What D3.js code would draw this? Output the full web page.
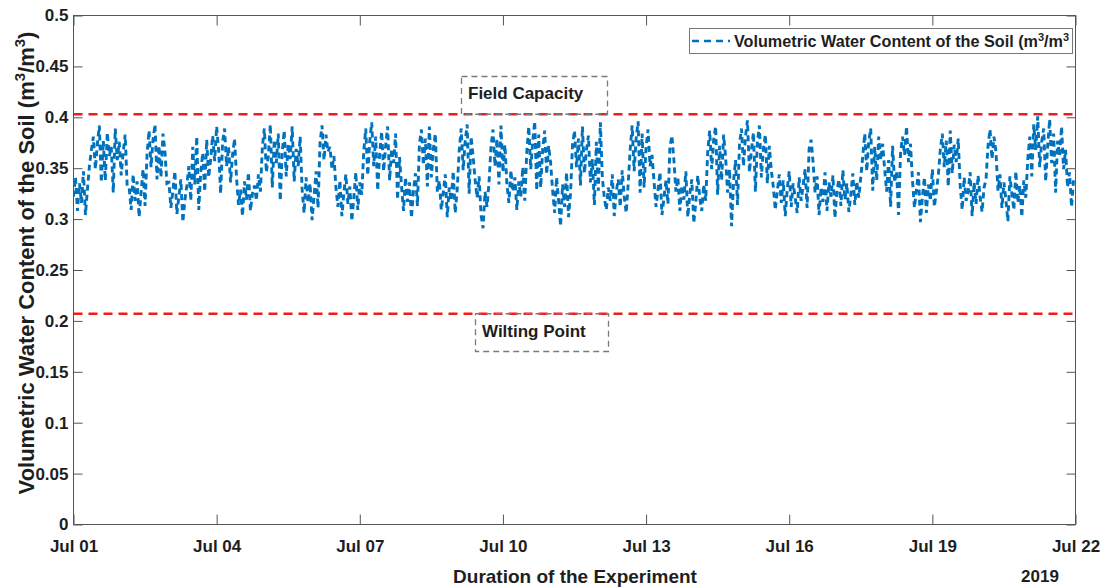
<!DOCTYPE html>
<html>
<head>
<meta charset="utf-8">
<script src="https://cdn.jsdelivr.net/npm/d3@7/dist/d3.min.js"></script>
<style>
  html, body { margin: 0; padding: 0; background: #fff; }
  svg { display: block; font-family: "Liberation Sans", Arial, sans-serif; font-weight: bold; }
</style>
</head>
<body>
<svg id="chart" width="1107" height="588"></svg>
<script>
// Hourly volumetric water content of the soil (m3/m3), 1 July 2019 00:00 onwards
const startTime = new Date(2019, 6, 1, 0, 0);
const vwc = [
  0.322, 0.341, 0.308, 0.335, 0.316, 0.347, 0.304, 0.329, 0.352,
  0.368, 0.381, 0.349, 0.374, 0.392, 0.336, 0.377, 0.338, 0.385, 0.362, 0.371, 0.326, 0.389, 0.358, 0.376, 0.343, 0.366, 0.383, 0.332,
  0.331, 0.309, 0.344, 0.318, 0.337, 0.302, 0.326, 0.349, 0.313,
  0.364, 0.387, 0.351, 0.378, 0.393, 0.339, 0.372, 0.341, 0.384, 0.366, 0.335,
  0.336, 0.311, 0.328, 0.347, 0.305, 0.322, 0.339, 0.297, 0.318, 0.333,
  0.352, 0.318, 0.371, 0.334, 0.381, 0.309, 0.346, 0.365, 0.327, 0.378, 0.341, 0.359,
  0.382, 0.357, 0.391, 0.368, 0.325, 0.376, 0.389, 0.352, 0.371, 0.336, 0.363, 0.379,
  0.341, 0.314, 0.329, 0.303, 0.337, 0.319, 0.346, 0.308, 0.325, 0.333,
  0.318, 0.344, 0.327,
  0.371, 0.389, 0.346, 0.362, 0.393, 0.331, 0.378, 0.355, 0.384, 0.318, 0.366, 0.387, 0.342, 0.374, 0.359, 0.391, 0.337, 0.369, 0.352, 0.381,
  0.329, 0.306, 0.341, 0.316, 0.335, 0.299, 0.322, 0.347, 0.311,
  0.375, 0.392, 0.358, 0.383, 0.366,
  0.371, 0.349, 0.362, 0.331, 0.312, 0.338, 0.303, 0.326, 0.344, 0.315, 0.332, 0.298, 0.321, 0.346, 0.309, 0.336, 0.324,
  0.367, 0.389, 0.343, 0.376, 0.395, 0.352, 0.381, 0.328, 0.364, 0.386, 0.347, 0.372, 0.391, 0.338, 0.369, 0.355, 0.384, 0.319, 0.361,
  0.332, 0.308, 0.341, 0.317, 0.336, 0.301, 0.328, 0.345, 0.313,
  0.374, 0.388, 0.353, 0.379, 0.332, 0.391, 0.341, 0.369, 0.384, 0.327,
  0.338, 0.309, 0.326, 0.344, 0.302, 0.331, 0.318, 0.347, 0.306, 0.329,
  0.367, 0.389, 0.348, 0.376, 0.393, 0.325, 0.381, 0.362, 0.339,
  0.321, 0.342, 0.304, 0.291, 0.327, 0.312, 0.336,
  0.371, 0.388, 0.352, 0.379, 0.334, 0.392, 0.346, 0.373,
  0.334, 0.316, 0.348, 0.327, 0.341, 0.309, 0.337, 0.322, 0.351, 0.318,
  0.366, 0.391, 0.349, 0.377, 0.396, 0.328, 0.383, 0.331, 0.369, 0.387, 0.344, 0.372, 0.355,
  0.328, 0.306, 0.341, 0.318, 0.293, 0.334, 0.312, 0.346, 0.302, 0.325,
  0.373, 0.387, 0.351, 0.379, 0.333, 0.391, 0.345, 0.368, 0.382,
  0.336, 0.359, 0.314, 0.376, 0.328, 0.395, 0.341, 0.321,
  0.309, 0.331, 0.318, 0.344, 0.303, 0.327, 0.339, 0.312, 0.348, 0.322, 0.306, 0.335,
  0.368, 0.392, 0.347, 0.379, 0.396, 0.326, 0.384, 0.331, 0.371, 0.388, 0.352, 0.363,
  0.337, 0.312, 0.329, 0.346, 0.304, 0.321, 0.338, 0.315, 0.371, 0.382, 0.358, 0.327, 0.341, 0.308, 0.333, 0.319, 0.347, 0.302, 0.325, 0.339, 0.296, 0.316, 0.343, 0.321, 0.308, 0.334, 0.318,
  0.366, 0.387, 0.349, 0.378, 0.391, 0.324, 0.372, 0.338, 0.383, 0.361,
  0.326, 0.349, 0.293, 0.337, 0.358, 0.314,
  0.374, 0.389, 0.352, 0.381, 0.397, 0.346, 0.368, 0.385, 0.327, 0.376, 0.392, 0.341, 0.369, 0.383, 0.335, 0.372, 0.348,
  0.332, 0.309, 0.327, 0.344, 0.316, 0.338, 0.303, 0.329, 0.347, 0.312,
  0.335, 0.321, 0.306, 0.341, 0.318, 0.333, 0.349, 0.311, 0.369, 0.378,
  0.356, 0.326, 0.342, 0.304, 0.331, 0.317, 0.346, 0.308, 0.336, 0.322,
  0.343, 0.301, 0.328, 0.339, 0.313, 0.348, 0.319, 0.335, 0.307, 0.324,
  0.345, 0.314, 0.337, 0.321, 0.341,
  0.362, 0.384, 0.347, 0.376, 0.389, 0.328, 0.371, 0.338, 0.381, 0.358, 0.374, 0.349,
  0.327, 0.358, 0.312, 0.372, 0.336, 0.347, 0.304, 0.365,
  0.381, 0.363, 0.391, 0.356, 0.374,
  0.338, 0.311, 0.329, 0.346, 0.297, 0.322, 0.341, 0.306, 0.334, 0.318, 0.349, 0.312, 0.327, 0.343,
  0.368, 0.384, 0.351, 0.377, 0.332, 0.387, 0.345, 0.373, 0.356, 0.379,
  0.333, 0.309, 0.341, 0.318, 0.327, 0.346, 0.303, 0.336, 0.315, 0.343, 0.322, 0.307, 0.331, 0.339,
  0.372, 0.388, 0.359, 0.381, 0.366,
  0.328, 0.344, 0.311, 0.336, 0.319, 0.298, 0.342, 0.325, 0.309, 0.347, 0.316, 0.333, 0.302, 0.338, 0.321,
  0.359, 0.381, 0.342, 0.393, 0.368, 0.401, 0.351, 0.376, 0.389, 0.337, 0.372, 0.398, 0.355, 0.384, 0.326, 0.377, 0.362, 0.391, 0.349, 0.368,
  0.331, 0.346, 0.312, 0.338
];

// Reference levels (m3/m3)
const fieldCapacity = 0.403;
const wiltingPoint = 0.207;

// Axis ticks
const xDomain = [new Date(2019, 6, 1), new Date(2019, 6, 22)];
const xTickDates = [1, 4, 7, 10, 13, 16, 19, 22].map(d => new Date(2019, 6, d));
const yTicks = [0, 0.05, 0.1, 0.15, 0.2, 0.25, 0.3, 0.35, 0.4, 0.45, 0.5];

const series = vwc.map((v, i) => ({ t: d3.timeHour.offset(startTime, i), v }));

const svg = d3.select("#chart");
const plot = { left: 73.5, right: 1075.5, top: 15.5, bottom: 524.5 };

const x = d3.scaleTime().domain(xDomain).range([plot.left, plot.right]);
const y = d3.scaleLinear().domain([0, 0.5]).range([plot.bottom, plot.top]);

const axisColor = "#555";
const textColor = "#1e1e1e";

svg.append("defs").append("clipPath").attr("id", "plotClip")
  .append("rect")
  .attr("x", plot.left).attr("y", plot.top)
  .attr("width", plot.right - plot.left).attr("height", plot.bottom - plot.top);

// Water content series
svg.append("path")
  .datum(series)
  .attr("clip-path", "url(#plotClip)")
  .attr("fill", "none")
  .attr("stroke", "#0072BD")
  .attr("stroke-width", 2.9)
  .attr("stroke-dasharray", "6,4")
  .attr("d", d3.line().x(d => x(d.t)).y(d => y(d.v)));

// Field capacity and wilting point lines
[fieldCapacity, wiltingPoint].forEach(level => {
  svg.append("line")
    .attr("x1", plot.left).attr("x2", plot.right)
    .attr("y1", y(level)).attr("y2", y(level))
    .attr("stroke", "#f01c1c")
    .attr("stroke-width", 2.6)
    .attr("stroke-dasharray", "9,6");
});

// Axes with inward ticks on all four sides
const fmtY = d => String(+d.toFixed(2));
const bottomAxis = d3.axisBottom(x).tickValues(xTickDates)
  .tickFormat(d3.timeFormat("%b %d")).tickSizeInner(-10).tickSizeOuter(0).tickPadding(15);
const topAxis = d3.axisTop(x).tickValues(xTickDates).tickFormat("").tickSizeInner(-10).tickSizeOuter(0);
const leftAxis = d3.axisLeft(y).tickValues(yTicks).tickFormat(fmtY).tickSizeInner(-9).tickSizeOuter(0).tickPadding(5);
const rightAxis = d3.axisRight(y).tickValues(yTicks).tickFormat("").tickSizeInner(-9).tickSizeOuter(0);

function styleAxis(g, size) {
  g.select(".domain").remove();
  g.selectAll(".tick line").attr("stroke", axisColor);
  g.selectAll(".tick text")
    .attr("fill", textColor)
    .style("font-family", "'Liberation Sans', Arial, sans-serif")
    .style("font-weight", "bold")
    .style("font-size", size + "px");
}

svg.append("g").attr("transform", `translate(0,${plot.bottom})`).call(bottomAxis).call(g => styleAxis(g, 17));
svg.append("g").attr("transform", `translate(0,${plot.top})`).call(topAxis).call(g => styleAxis(g, 17));
svg.append("g").attr("transform", `translate(${plot.left},0)`).call(leftAxis).call(g => styleAxis(g, 17));
svg.append("g").attr("transform", `translate(${plot.right},0)`).call(rightAxis).call(g => styleAxis(g, 17));

// Plot frame
svg.append("rect")
  .attr("x", plot.left).attr("y", plot.top)
  .attr("width", plot.right - plot.left).attr("height", plot.bottom - plot.top)
  .attr("fill", "none").attr("stroke", axisColor).attr("stroke-width", 1);

// Annotation boxes
function noteBox(label, bx, by, bw, bh, tx, ty) {
  svg.append("rect")
    .attr("x", bx).attr("y", by).attr("width", bw).attr("height", bh)
    .attr("fill", "none").attr("stroke", "#7a7a7a")
    .attr("stroke-width", 1.3).attr("stroke-dasharray", "6,4");
  svg.append("text")
    .attr("x", tx).attr("y", ty)
    .attr("fill", textColor).style("font-size", "17px")
    .text(label);
}
noteBox("Field Capacity", 461.5, 76.5, 146, y(fieldCapacity) - 76.5, 468, 99);
noteBox("Wilting Point", 475.5, y(wiltingPoint), 133, 351.5 - y(wiltingPoint), 482, 337);

// Legend (entry text runs past the box edge and is clipped there)
const legend = svg.append("g");
legend.append("clipPath").attr("id", "legendClip")
  .append("rect").attr("x", 689.5).attr("y", 28.5).attr("width", 381).attr("height", 25);
legend.append("rect")
  .attr("x", 689.5).attr("y", 28.5).attr("width", 383).attr("height", 25)
  .attr("fill", "#fff").attr("stroke", "#777").attr("stroke-width", 1);
legend.append("line")
  .attr("x1", 692).attr("x2", 730).attr("y1", 41).attr("y2", 41)
  .attr("stroke", "#0072BD").attr("stroke-width", 2.6).attr("stroke-dasharray", "7,5");
const legendText = legend.append("text")
  .attr("clip-path", "url(#legendClip)")
  .attr("x", 734).attr("y", 47)
  .attr("fill", textColor).style("font-size", "16.2px");
legendText.append("tspan").text("Volumetric Water Content of the Soil (m");
legendText.append("tspan").attr("dy", -6).style("font-size", "11px").text("3");
legendText.append("tspan").attr("dy", 6).text("/m");
legendText.append("tspan").attr("dy", -6).style("font-size", "11px").text("3");
legendText.append("tspan").attr("dy", 6).attr("dx", 4).text(")");

// Axis titles
svg.append("text")
  .attr("x", 575).attr("y", 583)
  .attr("text-anchor", "middle")
  .attr("fill", textColor).style("font-size", "19px")
  .text("Duration of the Experiment");

svg.append("text")
  .attr("x", 1040).attr("y", 582)
  .attr("text-anchor", "middle")
  .attr("fill", textColor).style("font-size", "17px")
  .text("2019");

const yTitle = svg.append("text")
  .attr("transform", "translate(34,263) rotate(-90)")
  .attr("text-anchor", "middle")
  .attr("fill", textColor).style("font-size", "22px");
yTitle.append("tspan").text("Volumetric Water Content of the Soil (m");
yTitle.append("tspan").attr("dy", -9).style("font-size", "15px").text("3");
yTitle.append("tspan").attr("dy", 9).text("/m");
yTitle.append("tspan").attr("dy", -9).style("font-size", "15px").text("3");
yTitle.append("tspan").attr("dy", 9).text(")");
</script>
</body>
</html>
